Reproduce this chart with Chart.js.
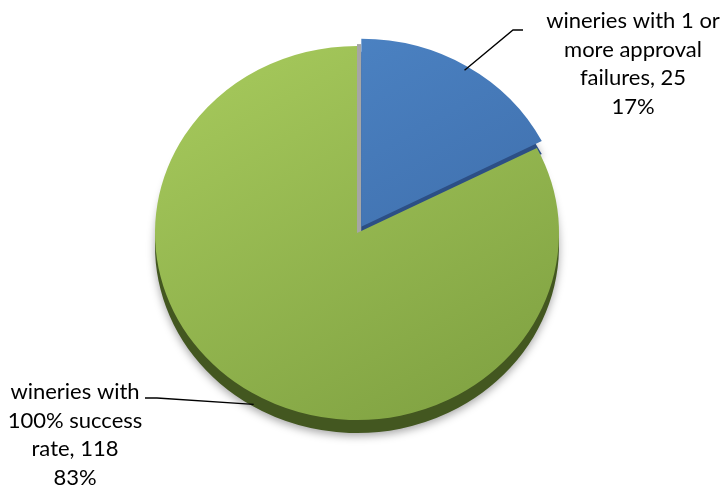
<!DOCTYPE html>
<html><head><meta charset="utf-8">
<script src="https://cdn.jsdelivr.net/npm/chart.js@4"></script>
<style>html,body{margin:0;padding:0;background:#fff;overflow:hidden}#wrap{width:723px;height:491px;position:relative}</style>
</head><body><div id="wrap"><canvas id="c"></canvas></div>
<script>
// ---- data ----
const categories = [
  ['wineries with 1 or', 'more approval', 'failures'],
  ['wineries with', '100% success', 'rate']
];
const values = [25, 118];
const topColors = ['#4d85c6', '#a5c85b'];
const bottomColors = ['#3a67a3', '#80a242'];
const rimColors = ['#2c4f85', '#435720'];
const explodePx = [8, 0];

// ---- layout constants ----
const Y_SCALE = 0.926;
const DEPTH = 13;
const FONT = '22px Lato, "Open Sans", sans-serif';
const LINE_H = 28.7;
const labelLayout = [
  {elbow: [513, 30], end: [523, 30], text: [633, 21]},
  {elbow: [157, 398], end: [145, 398], text: [75, 392]}
];

const total = values.reduce((a, b) => a + b, 0);

function faceColor(c) {
  const i = c.dataIndex;
  const chart = c.chart;
  const area = chart.chartArea;
  if (!area) return topColors[i];
  const cx = (area.left + area.right) / 2, cy = (area.top + area.bottom) / 2, r = 202;
  const g = chart.ctx.createLinearGradient(cx - r * 0.6, cy - r, cx + r * 0.6, cy + r);
  g.addColorStop(0, topColors[i]);
  g.addColorStop(1, bottomColors[i]);
  return g;
}

function withTilt(ctx, cx, cy) {
  ctx.translate(cx, cy);
  ctx.scale(1, Y_SCALE);
  ctx.translate(-cx, -cy);
}

const tiltPlugin = {
  id: 'tilt',
  beforeDatasetsDraw(chart) {
    const meta = chart.getDatasetMeta(0);
    const ctx = chart.ctx;
    const cx = meta.data[0].x, cy = meta.data[0].y;
    // side / depth of the pie
    ctx.save();
    withTilt(ctx, cx, cy);
    ctx.translate(0, DEPTH / Y_SCALE);
    meta.data.forEach((arc, i) => {
      const clone = Object.create(arc);
      clone.options = Object.assign({}, arc.options, {backgroundColor: rimColors[i]});
      ctx.save();
      ctx.shadowColor = 'rgba(0,0,0,0.35)';
      ctx.shadowBlur = 8;
      ctx.shadowOffsetY = 3;
      clone.draw(ctx);
      ctx.restore();
    });
    ctx.restore();
    // gray cut face visible in the explode gap
    ctx.save();
    withTilt(ctx, cx, cy);
    ctx.fillStyle = '#a6a6a6';
    ctx.fillRect(cx, cy - meta.data[0].outerRadius - 2, 4, meta.data[0].outerRadius + 2);
    ctx.restore();
    ctx.save();
    withTilt(ctx, cx, cy);
  },
  afterDatasetsDraw(chart) {
    chart.ctx.restore();
  },
  afterDraw(chart) {
    const meta = chart.getDatasetMeta(0);
    const ctx = chart.ctx;
    ctx.save();
    ctx.font = FONT;
    ctx.fillStyle = '#000';
    ctx.strokeStyle = '#000';
    ctx.lineWidth = 1.4;
    ctx.textAlign = 'center';
    ctx.textBaseline = 'middle';
    meta.data.forEach((arc, i) => {
      const mid = (arc.startAngle + arc.endAngle) / 2;
      const off = (arc.options.offset || 0) / 4;
      const r = arc.outerRadius - 4;
      let ax = arc.x + Math.cos(mid) * (r + off);
      let ay = arc.y + Math.sin(mid) * (r + off) * Y_SCALE;
      if (Math.sin(mid) > 0) ay += DEPTH + 2;
      const L = labelLayout[i];
      ctx.beginPath();
      ctx.moveTo(ax, ay);
      ctx.lineTo(L.elbow[0], L.elbow[1]);
      ctx.lineTo(L.end[0], L.end[1]);
      ctx.stroke();
      const cat = categories[i];
      const pct = Math.round(values[i] / total * 100);
      const lines = cat.slice(0, -1).concat([cat[cat.length - 1] + ', ' + values[i], pct + '%']);
      lines.forEach((t, k) => ctx.fillText(t, L.text[0], L.text[1] + k * LINE_H));
    });
    ctx.restore();
  }
};

new Chart(document.getElementById('c'), {
  type: 'pie',
  data: {
    labels: categories.map(c => c.join(' ')),
    datasets: [{
      data: values,
      backgroundColor: faceColor,
      borderWidth: 0,
      offset: explodePx.map(v => v * 4)
    }]
  },
  options: {
    responsive: true,
    maintainAspectRatio: false,
    animation: false,
    events: [],
    radius: 202,
    layout: {padding: {left: 0, right: 9, top: 0, bottom: 25}},
    plugins: {legend: {display: false}, tooltip: {enabled: false}}
  },
  plugins: [tiltPlugin]
});
</script>
</body></html>
